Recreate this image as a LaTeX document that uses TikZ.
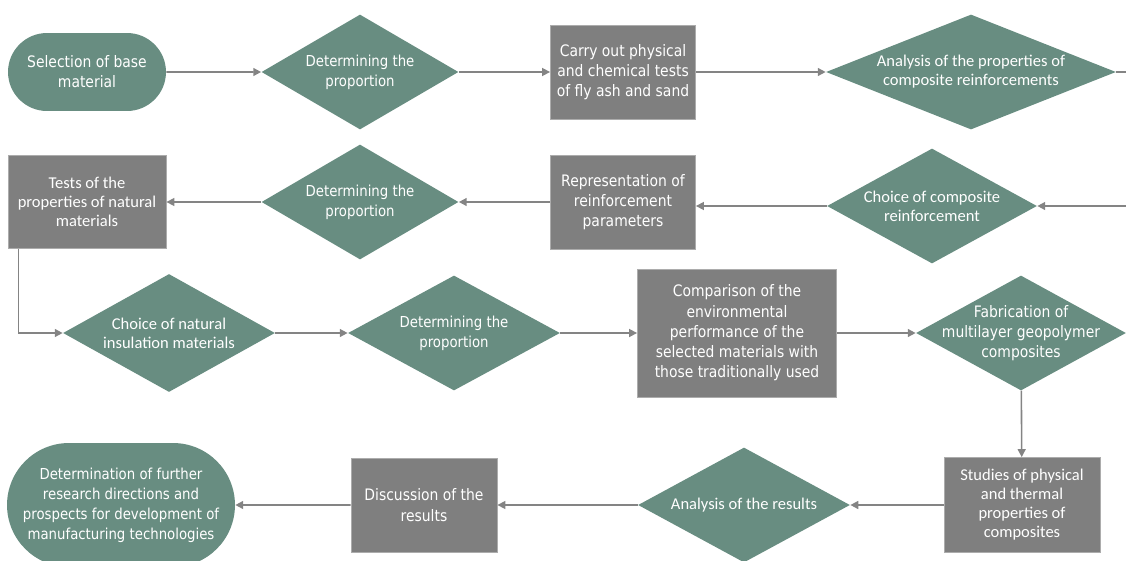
\documentclass[tikz,border=0pt]{standalone}
\usepackage{fontspec}
\usepackage{xcolor}
\usetikzlibrary{arrows.meta, shapes.geometric, shapes.misc, positioning, calc}
\newfontfamily\tahfont[FakeStretch=0.88]{DejaVu Sans}
\newfontfamily\calfont{Carlito}
\definecolor{FlowGreen}{RGB}{104,141,129}
\definecolor{FlowGray}{RGB}{127,127,127}
\definecolor{LineGray}{RGB}{132,132,132}

\begin{document}
\begin{tikzpicture}[x=0.02cm, y=-0.02cm,
    ttxt/.style={text=white, align=center,
                 font=\tahfont\fontsize{9}{11.5}\selectfont},
    ptxt/.style={ttxt, font=\tahfont\fontsize{8.6}{11.4}\selectfont},
    ctxt/.style={text=white, align=center,
                 font=\calfont\fontsize{9.4}{10.8}\selectfont},
    term/.style={rounded rectangle, fill=FlowGreen, inner sep=0pt},
    box/.style={rectangle, fill=FlowGray, draw=FlowGray!65!white,
                line width=0.5pt, inner sep=2pt},
    dia/.style={diamond, fill=FlowGreen, inner sep=0pt},
    arr/.style={-{Triangle[length=4.5pt,width=4.5pt]}, LineGray, line width=0.9pt}
  ]
  \useasboundingbox (0,0) rectangle (1126,561);

  % first row
  \node[term, minimum width=3.16cm, minimum height=1.56cm, ttxt] (base) at (87,72)
    {Selection of base\\material};
  \node[dia, minimum width=3.94cm, minimum height=2.3cm,
        label={[ptxt]center:Determining the\\proportion}] (prop1) at (360,72) {};
  \node[box, minimum width=2.9cm, minimum height=1.88cm, ttxt] (carry) at (623,72)
    {Carry out physical\\and chemical tests\\of fly ash and sand};
  \node[dia, minimum width=5.8cm, minimum height=2.3cm,
        label={[ctxt]center:Analysis of the properties of\\composite reinforcements}] (anal1) at (971,72) {};

  % second row
  \node[dia, minimum width=4.2cm, minimum height=2.3cm,
        label={[ctxt]center:Choice of composite\\reinforcement}] (choice) at (932,206) {};
  \node[box, minimum width=2.9cm, minimum height=1.88cm, ttxt] (repr) at (623,202)
    {Representation of\\reinforcement\\parameters};
  \node[dia, minimum width=3.94cm, minimum height=2.3cm,
        label={[ptxt]center:Determining the\\proportion}] (prop2) at (360,202) {};
  \node[box, minimum width=3.16cm, minimum height=1.86cm, ctxt] (tests) at (87,202)
    {Tests of the\\properties of natural\\materials};

  % third row
  \node[dia, minimum width=4.24cm, minimum height=2.36cm,
        label={[ctxt]center:Choice of natural\\insulation materials}] (natural) at (169,333) {};
  \node[dia, minimum width=4.24cm, minimum height=2.3cm,
        label={[ptxt]center:Determining the\\proportion}] (prop3) at (454,333) {};
  \node[box, minimum width=3.98cm, minimum height=2.56cm, ttxt] (compar) at (737,333)
    {Comparison of the\\environmental\\performance of the\\selected materials with\\those traditionally used};
  \node[dia, minimum width=4.2cm, minimum height=2.3cm,
        label={[ttxt]center:Fabrication of\\multilayer geopolymer\\composites}] (fab) at (1021,333) {};

  % fourth row
  \node[box, minimum width=3.12cm, minimum height=1.9cm, ctxt] (studies) at (1022,505)
    {Studies of physical\\and thermal\\properties of\\composites};
  \node[dia, minimum width=4.24cm, minimum height=2.3cm,
        label={[ctxt]center:Analysis of the results}] (anal2) at (744,505) {};
  \node[box, minimum width=2.92cm, minimum height=1.88cm, ttxt] (discuss) at (424,505)
    {Discussion of the\\results};
  \node[term, minimum width=4.56cm, minimum height=2.48cm, ptxt] (future) at (121,505)
    {Determination of further\\research directions and\\prospects for development of\\manufacturing technologies};

  % connectors
  \draw[arr] (base) -- (prop1);
  \draw[arr] (prop1) -- (carry);
  \draw[arr] (carry) -- (anal1);
  \draw[arr] (anal1.east) -- ++(40,0) |- (choice.east);
  \draw[arr] (choice.west) -- (repr.east |- choice.west);
  \draw[arr] (repr.west) -- (prop2.east);
  \draw[arr] (prop2) -- (tests);
  \draw[arr] ([xshift=0.22cm]tests.south west) |- (natural.west);
  \draw[arr] (natural) -- (prop3);
  \draw[arr] (prop3) -- (compar);
  \draw[arr] (compar) -- (fab);
  \draw[arr] (fab) -- (studies);
  \draw[arr] (studies) -- (anal2);
  \draw[arr] (anal2) -- (discuss);
  \draw[arr] (discuss) -- (future);
\end{tikzpicture}
\end{document}
